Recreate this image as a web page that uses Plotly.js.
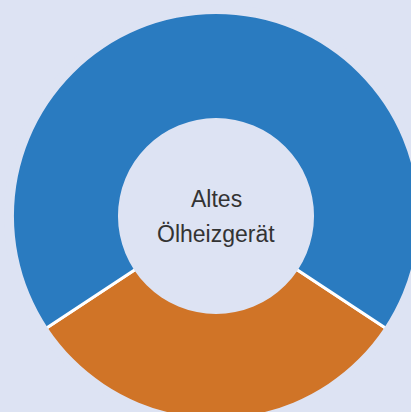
<!DOCTYPE html>
<html>
<head>
<meta charset="utf-8">
<script src="https://cdn.plot.ly/plotly-3.0.1.min.js"></script>
<style>
html,body{margin:0;padding:0;overflow:hidden;background:#dde3f3;width:411px;height:412px;}
#chart{width:432px;height:432px;}
</style>
</head>
<body>
<div id="chart"></div>
<script>
const labels = ["Orange", "Blau"];
const values = [31.4, 68.6];
const colors = ["#d07427", "#2a7bc0"];
const centerLines = ["Altes", "Ölheizgerät"];

const BG = "#dde3f3";
const W = 432, H = 432;
const cx = 216, cy = 216, R = 202, r = 98;

function dom(rad) {
  return {x: [(cx - rad) / W, (cx + rad) / W], y: [1 - (cy + rad) / H, 1 - (cy - rad) / H]};
}

const Rmain = R + 3, rmain = r - 3;
const mainTrace = {
  type: "pie",
  labels: labels,
  values: values,
  sort: false,
  direction: "clockwise",
  rotation: 180 - values[0] / 100 * 180,
  hole: rmain / Rmain,
  textinfo: "none",
  hoverinfo: "none",
  marker: {colors: colors, line: {color: "#ffffff", width: 3}},
  domain: dom(Rmain),
  showlegend: false
};

// background-coloured ring covering the outer white stroke
const Rcover = R + 10;
const outerCover = {
  type: "pie", labels: ["bg"], values: [1], sort: false,
  hole: R / Rcover, textinfo: "none", hoverinfo: "none",
  marker: {colors: [BG], line: {width: 0}},
  domain: dom(Rcover), showlegend: false
};
// background-coloured disc covering the inner white stroke
const innerCover = {
  type: "pie", labels: ["bg2"], values: [1], sort: false,
  hole: 0, textinfo: "none", hoverinfo: "none",
  marker: {colors: [BG], line: {width: 0}},
  domain: dom(r), showlegend: false
};

const fontSpec = {family: "Liberation Sans, Arial, sans-serif", size: 23, color: "#333333"};
const annotations = [
  {text: centerLines[0], x: cx / W, y: 1 - 199 / H, xref: "paper", yref: "paper", showarrow: false, xanchor: "center", yanchor: "middle", font: fontSpec},
  {text: centerLines[1], x: cx / W, y: 1 - 234 / H, xref: "paper", yref: "paper", showarrow: false, xanchor: "center", yanchor: "middle", font: fontSpec}
];

Plotly.newPlot("chart", [mainTrace, outerCover, innerCover], {
  width: W, height: H,
  margin: {l: 0, r: 0, t: 0, b: 0},
  paper_bgcolor: BG,
  plot_bgcolor: BG,
  annotations: annotations
}, {displayModeBar: false, staticPlot: true});
</script>
</body>
</html>
